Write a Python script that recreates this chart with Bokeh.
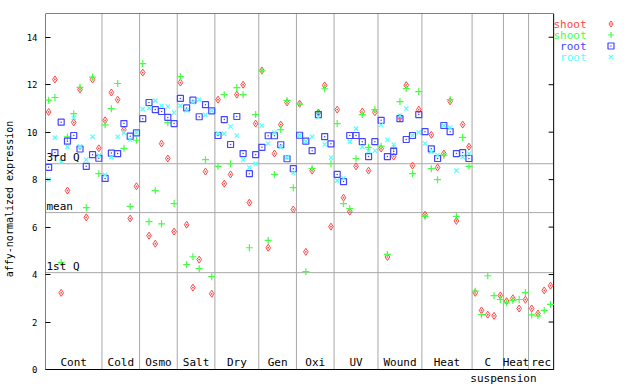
import numpy as np
from bokeh.plotting import figure
from bokeh.core.properties import value
from bokeh.models import (Range1d, FixedTicker, Label, LabelSet,
                          ColumnDataSource, Legend, LegendItem)
from bokeh.embed import file_html
from bokeh.resources import INLINE

nan = float("nan")

groups = ["Cont", "Cold", "Osmo", "Salt", "Dry", "Gen", "Oxi", "UV", "Wound", "Heat", "C", "Heat", "rec"]
group_sizes = [9, 6, 6, 6, 7, 6, 6, 7, 7, 8, 5, 4, 4]

shoot_1 = [10.85, 12.22, 3.23, 7.54, 10.41, 11.80, 6.41, 12.22, 9.32,
           10.50, 11.67, 11.37, 10.10, 6.36, 7.72,
           12.51, 5.64, 5.30, 9.52, 8.89, 5.81,
           12.09, 6.10, 3.45, 4.63, 8.34, 3.19,
           11.37, 7.83, 8.22, 11.58, 12.00, 7.03, 10.36,
           12.60, 5.13, 9.10, 10.32, 11.25, 6.74,
           11.20, 4.96, 8.38, 10.83, 11.97, 6.02,
           10.95, 7.24, 6.65, 8.56, 10.87, 8.38, 10.84,
           9.31, 4.74, 8.97, 10.62, 11.98, 8.59, 10.95,
           6.52, 9.89, 8.51, 9.10, 11.30, 6.26, 10.32, 9.39,
           3.23, 2.49, 2.31, 2.26, 3.12,
           2.88, 3.00, 2.57, 2.94,
           2.57, 2.36, 3.33, 3.53]

shoot_2 = [11.35, 11.46, 4.51, 9.80, 10.78, 11.89, 6.82, 12.32, 8.25,
           10.31, 10.99, 12.05, 9.32, 6.87, 9.66,
           12.89, 6.23, 7.54, 6.14, 10.40, 6.99,
           12.34, 4.42, 4.75, 4.25, 8.84, 3.91,
           8.56, 11.58, 8.67, 11.88, 11.58, 5.13, 10.74,
           12.58, 5.44, 8.22, 10.11, 11.33, 7.66,
           11.18, 4.12, 8.47, 10.80, 11.83, 8.67,
           10.36, 6.99, 6.78, 8.89, 10.74, 9.36, 10.95,
           9.41, 4.85, 9.35, 11.29, 11.84, 8.25, 11.71,
           6.45, 8.46, 8.00, 9.03, 11.37, 6.45, 9.78, 8.56,
           3.30, 2.31, 3.95, 3.11, 2.95,
           2.81, 2.91, 2.95, 3.24,
           2.30, 2.26, 2.49, 2.74]

root_1 = [8.52, 9.14, 10.42, 9.62, 9.86, 9.29, 8.56, 9.05, 8.90,
          8.05, 9.12, 9.10, 10.36, 9.83, 9.97,
          10.57, 11.25, 10.95, 10.87, 10.62, 10.36,
          11.42, 11.02, 11.35, 10.65, 11.16, 10.90,
          9.86, 10.53, 9.48, 10.66, 9.10, 8.25, 9.05,
          9.36, 9.85, 9.85, 9.47, 8.88, 8.46,
          9.87, 9.62, 9.22, 10.74, 9.81, 9.51,
          8.22, 7.92, 9.86, 9.86, 9.60, 8.97, 9.60,
          10.50, 8.97, 9.19, 10.57, 9.69, 9.86, 10.74,
          10.02, 9.30, 8.89, 10.28, 10.02, 9.10, 9.14, 8.89,
          nan, nan, nan, nan, nan,
          nan, nan, nan, nan,
          nan, nan, nan, nan]

root_2 = [8.00, 9.77, 8.76, 9.38, 10.60, 9.40, 8.84, 9.81, 9.02,
          8.20, 8.95, 9.81, 9.97, 9.68, 9.98,
          10.97, 11.02, 11.33, 11.11, 11.08, 10.83,
          11.12, 10.92, 11.26, 11.37, 10.73, 10.90,
          9.95, 9.94, 10.24, 9.86, 8.84, 8.51, 8.67,
          10.27, 9.52, 9.98, 9.37, 8.95, 8.29,
          9.87, 9.62, 9.81, 10.64, 9.48, 8.93,
          7.96, 8.06, 9.60, 10.15, 9.38, 9.20, 9.22,
          10.30, 9.68, 9.48, 10.69, 11.00, 9.86, 9.99,
          9.52, 9.17, 9.04, 10.28, 10.19, 8.38, 8.96, 9.10,
          nan, nan, nan, nan, nan,
          nan, nan, nan, nan,
          nan, nan, nan, nan]

quartile_names = ["3rd Q", "mean", "1st Q"]
quartile_values = [8.67, 6.61, 4.08]
y_ticks = [0, 2, 4, 6, 8, 10, 12, 14]
y_max = 15
series_labels = ["shoot", "shoot", "root", "root"]

MONO = "DejaVu Sans Mono"
RED, GREEN, BLUE, CYAN = "#ff4545", "#45ff45", "#4545ff", "#55ffff"
GRAY = "#a8a8a8"

# layout (pixels)
W, H = 640, 384
LEFT, TOP = 44, 13
BOX_W, BOX_H = 509, 356          # plot box size in px
n = len(shoot_1)
ppx = BOX_W / n                  # px per sample
ppy = BOX_H / y_max              # px per unit
x_end = (W - LEFT) / ppx
y_start = -(H - TOP - BOX_H) / ppy

xs = np.arange(n) + 0.5
src = ColumnDataSource(dict(x=xs, s1=shoot_1, s2=shoot_2, r1=root_1, r2=root_2))

p = figure(width=W, height=H, output_backend="svg", toolbar_location=None,
           x_range=Range1d(0, x_end), y_range=Range1d(y_start, y_max),
           x_axis_location=None, y_axis_location="left",
           min_border_left=LEFT, min_border_right=0, min_border_top=TOP, min_border_bottom=0)
p.xgrid.visible = False
p.ygrid.visible = False
p.outline_line_color = None
p.background_fill_color = "white"
p.border_fill_color = "white"

ya = p.yaxis[0]
ya.ticker = FixedTicker(ticks=y_ticks)
ya.major_tick_in = 5
ya.major_tick_out = 0
ya.minor_tick_in = 0
ya.minor_tick_out = 0
ya.axis_line_color = None
ya.major_tick_line_color = "black"
ya.major_label_text_font = MONO
ya.major_label_text_font_size = "9px"
ya.major_label_text_color = "black"
ya.major_label_standoff = 8
ya.axis_label = "affy-normalized expression"
ya.axis_label_text_font = MONO
ya.axis_label_text_font_size = "10px"
ya.axis_label_text_font_style = "normal"
ya.axis_label_text_color = "black"
ya.axis_label_standoff = 9

bounds = np.cumsum(group_sizes)

# separators and quartile lines
p.segment(x0=bounds[:-1], y0=0, x1=bounds[:-1], y1=y_max, line_color=GRAY, line_width=1)
p.segment(x0=0, y0=quartile_values, x1=n, y1=quartile_values, line_color=GRAY, line_width=1)

# plot box and right-side inward ticks
p.segment(x0=[0, 0, 0, n], y0=[0, y_max, 0, 0], x1=[n, n, 0, n], y1=[0, y_max, y_max, y_max],
          line_color="black", line_width=1)
tick_len = 5 / ppx
p.segment(x0=n - tick_len, y0=y_ticks, x1=n, y1=y_ticks, line_color="black", line_width=1)

# points
r_s1 = p.scatter("x", "s1", source=src, marker="diamond_dot", size=7, line_color=RED,
                 fill_color=None, line_width=1)
r_s2 = p.scatter("x", "s2", source=src, marker="cross", size=7, line_color=GREEN,
                 line_width=1.2)
r_r1 = p.scatter("x", "r1", source=src, marker="square_dot", size=6, line_color=BLUE,
                 fill_color=None, line_width=1.2)
r_r2 = p.scatter("x", "r2", source=src, marker="x", size=6, line_color=CYAN,
                 line_width=1.2)

# group labels
starts = bounds - np.array(group_sizes)
centers = starts + np.array(group_sizes) / 2.0
gl_src = ColumnDataSource(dict(x=centers, y=[0] * len(groups), t=groups))
p.add_layout(LabelSet(x="x", y="y", text="t", source=gl_src, text_align="center",
                      text_baseline="bottom", y_offset=1, text_font=value(MONO),
                      text_font_size=value("11px"), text_color="black"))
p.add_layout(Label(x=float(bounds[10]), y=0, text="suspension", text_align="center",
                   text_baseline="top", y_offset=-2, text_font=MONO,
                   text_font_size="11px", text_color="black"))

# quartile labels
ql_src = ColumnDataSource(dict(x=[0] * 3, y=quartile_values, t=quartile_names))
p.add_layout(LabelSet(x="x", y="y", text="t", source=ql_src, text_align="left",
                      text_baseline="bottom", x_offset=1, y_offset=0, text_font=value(MONO),
                      text_font_size=value("11px"), text_color="black"))

# legend: text labels + one glyph-only legend per row
colors = [RED, GREEN, BLUE, CYAN]
renderers = [r_s1, r_s2, r_r1, r_r2]
frame_h = H - TOP
for k, (lab, col, r) in enumerate(zip(series_labels, colors, renderers)):
    row_y = 23.7 + 11 * k
    p.add_layout(Label(x=585 - LEFT, y=frame_h - (row_y - TOP),
                       x_units="screen", y_units="screen",
                       text=lab, text_align="right", text_baseline="middle",
                       text_font=MONO, text_font_size="11px", text_color=col))
    leg = Legend(items=[LegendItem(label=" ", renderers=[r])],
                 location=(609 - 7.5 - LEFT, frame_h - (row_y + 7.5 - TOP)),
                 orientation="vertical", glyph_width=15, glyph_height=15,
                 label_height=15, label_width=1, label_text_font_size="1px",
                 label_standoff=0, spacing=0, padding=0, margin=0,
                 border_line_color=None, background_fill_alpha=0)
    p.add_layout(leg, "center")

open("out.html", "w").write(file_html(p, INLINE))
